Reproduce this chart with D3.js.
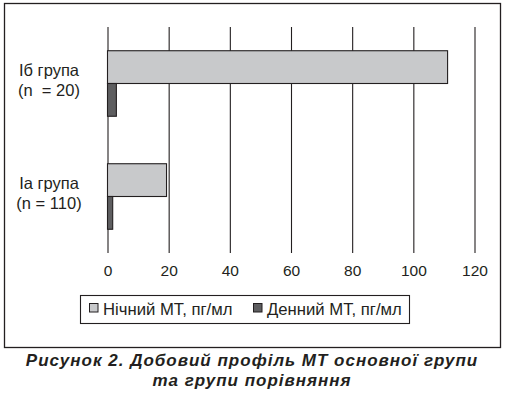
<!DOCTYPE html>
<html><head><meta charset="utf-8">
<script src="https://cdn.jsdelivr.net/npm/d3@7"></script>
<style>
body{margin:0;background:#fff;}
svg{display:block;font-family:"Liberation Sans",Arial,Helvetica,sans-serif;}
</style></head>
<body><svg id="c" width="505" height="397"></svg>
<script>
const categories = ["Іб група|(n  = 20)", "Іa група|(n = 110)"];
const seriesNames = ["Нічний МТ, пг/мл", "Денний МТ, пг/мл"];
const nightValues = [111.2, 19.3];
const dayValues = [2.9, 1.7];
const tickValues = [0, 20, 40, 60, 80, 100, 120];
const captionLines = ["Рисунок 2. Добовий профіль МТ основної групи", "та групи порівняння"];

const colors = ["#c8c9cb", "#5e5e60"];
const ink = "#231f20";
const svg = d3.select("#c");

// outer frame
svg.append("rect").attr("x", 4.5).attr("y", 3.5).attr("width", 496).attr("height", 344)
  .attr("fill", "none").attr("stroke", ink).attr("stroke-width", 1.3);

const x = d3.scaleLinear().domain([0, 120]).range([107.5, 474.5]);
const y = d3.scaleBand().domain(categories).range([27, 253]).paddingInner(0.42).paddingOuter(0.21);
const sub = d3.scaleBand().domain([0, 1]).range([0, y.bandwidth()]);

// gridlines via axis
const ax = svg.append("g").attr("transform", "translate(0,253)")
  .call(d3.axisBottom(x).tickValues(tickValues).tickSize(226).tickSizeOuter(0).tickPadding(0));
ax.select(".domain").remove();
ax.selectAll(".tick line").attr("stroke", ink).attr("stroke-width", 1.1).attr("y1", -226).attr("y2", 0);
ax.selectAll(".tick text").attr("y", 23).attr("dy", 0).attr("font-size", 15.5).attr("fill", ink)
  .attr("font-family", "'Liberation Sans',Arial,sans-serif");

// bars
const series = [nightValues, dayValues];
series.forEach((vals, si) => {
  svg.append("g").selectAll("rect").data(categories).join("rect")
    .attr("x", x(0))
    .attr("y", d => y(d) + sub(si))
    .attr("width", (d, i) => x(vals[i]) - x(0))
    .attr("height", sub.bandwidth())
    .attr("fill", colors[si]).attr("stroke", ink).attr("stroke-width", 1.1);
});

// category labels
categories.forEach(c => {
  const parts = c.split("|");
  const cy = y(c) + y.bandwidth() / 2;
  const t = svg.append("text").attr("text-anchor", "middle").attr("font-size", 16.5).attr("fill", ink)
    .style("white-space", "pre");
  t.append("tspan").attr("x", 49).attr("y", cy - 8).text(parts[0]);
  t.append("tspan").attr("x", 49).attr("y", cy + 12).text(parts[1]);
});

// legend
svg.append("rect").attr("x", 80.5).attr("y", 295.5).attr("width", 329).attr("height", 28)
  .attr("fill", "#fff").attr("stroke", ink).attr("stroke-width", 1.1);
const lx = [89, 253];
seriesNames.forEach((n, i) => {
  svg.append("rect").attr("x", lx[i] + 0.5).attr("y", 303.5).attr("width", 8.5).attr("height", 8.5)
    .attr("fill", colors[i]).attr("stroke", ink).attr("stroke-width", 1);
  svg.append("text").attr("x", lx[i] + 14).attr("y", 314.5).attr("font-size", 16.7).attr("fill", ink).text(n);
});

// caption
captionLines.forEach((l, i) => {
  svg.append("text").attr("x", 252).attr("y", 366 + i * 20).attr("text-anchor", "middle")
    .attr("font-size", 17).attr("letter-spacing", 1).attr("font-weight", "bold")
    .attr("font-style", "italic").attr("fill", ink).text(l);
});
</script></body></html>
